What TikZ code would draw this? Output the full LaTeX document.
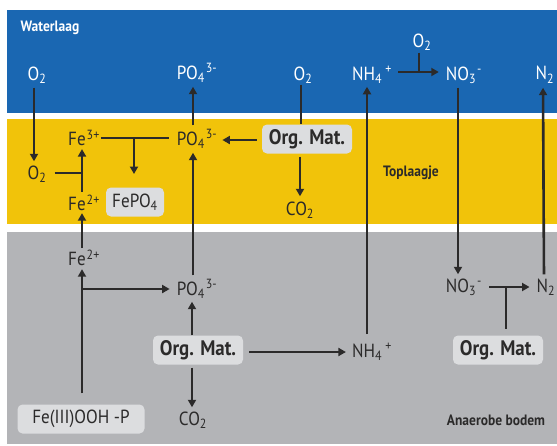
\documentclass[tikz,border=0pt]{standalone}
\usepackage{fontspec}
\setmainfont[FakeStretch=0.9]{PT Sans}
\usetikzlibrary{arrows.meta}
\definecolor{bandblue}{HTML}{1A67B2}
\definecolor{bandyellow}{HTML}{F1C30A}
\definecolor{bandgray}{HTML}{B3B4B7}
\definecolor{boxgray}{HTML}{DCDDDF}
\definecolor{dk}{HTML}{2B2A2A}
\tikzset{
  lbl/.style={font=\fontsize{19}{21}\selectfont, text=dk, inner sep=1pt},
  wlbl/.style={lbl, text=white},
  tag/.style={font=\fontsize{15}{17}\selectfont\bfseries, inner sep=1pt},
  ombox/.style={lbl, font=\fontsize{21}{23}\selectfont\bfseries, fill=boxgray, rounded corners=5pt, minimum width=90pt, minimum height=29pt, inner sep=0pt},
  gbox/.style={lbl, fill=boxgray, rounded corners=5pt, minimum height=29pt, inner sep=0pt},
  arr/.style={draw=dk, line width=2.6pt, -{Triangle[length=7.5pt,width=8pt]}},
  ln/.style={draw=dk, line width=2.6pt},
}
\newcommand{\sub}[1]{\textsubscript{#1}}
\newcommand{\sps}[1]{\textsuperscript{\kern1pt#1}}
\begin{document}
\begin{tikzpicture}[x=1pt,y=-1pt]
\useasboundingbox (0,0) rectangle (557,445);
% bands
\fill[bandblue] (7,10) rectangle (557,113);
\fill[bandyellow] (7,119) rectangle (557,224);
\fill[bandgray] (7,232) rectangle (557,444);
% band titles
\node[tag, text=white] (wl) at (50,28) {Waterlaag};
\node[tag, text=dk] (tl) at (411,173) {Toplaagje};
\node[tag, text=dk] (ab) at (496,420) {Anaerobe bodem};
% water layer
\node[wlbl] (o2t1) at (37,75) {O\sub{2}};
\node[wlbl] (po4t) at (197,73) {PO\sub{4}\sps{3-}};
\node[wlbl] (o2t2) at (303,75) {O\sub{2}};
\node[wlbl] (nh4t) at (372,75) {NH\sub{4}\sps{\,+}};
\node[wlbl] (o2n) at (422,42) {O\sub{2}};
\node[wlbl] (no3t) at (464,75) {NO\sub{3}\sps{-}};
\node[wlbl] (n2t) at (545,75) {N\sub{2}};
% top layer
\node[lbl] (o2y) at (37,174) {O\sub{2}};
\node[lbl] (fe3) at (84,138) {Fe\sps{3+}};
\node[lbl] (fe2y) at (84,203) {Fe\sps{2+}};
\node[gbox, minimum width=58pt] (fepo) at (135,202) {FePO\sub{4}};
\node[lbl] (po4y) at (197,139) {PO\sub{4}\sps{3-}};
\node[ombox] (omy) at (307,139) {Org. Mat.};
\node[lbl] (co2y) at (300,210) {CO\sub{2}};
% anaerobic soil
\node[lbl] (fe2g) at (84,258) {Fe\sps{2+}};
\node[lbl] (po4g) at (197,289) {PO\sub{4}\sps{3-}};
\node[ombox] (omg) at (198,350) {Org. Mat.};
\node[lbl] (co2g) at (193,420) {CO\sub{2}};
\node[gbox, minimum width=127pt] (feooh) at (81,419) {Fe(III)OOH -P};
\node[lbl] (nh4g) at (372,352) {NH\sub{4}\sps{\,+}};
\node[lbl] (no3g) at (464,287) {NO\sub{3}\sps{-}};
\node[lbl] (n2g) at (546,287) {N\sub{2}};
\node[ombox] (omr) at (498,350) {Org. Mat.};
% junction coordinates
\coordinate (jo2) at (82,173);
\coordinate (jfe) at (134,138);
\coordinate (jfeg) at (82,289);
\coordinate (jn) at (419,72);
\coordinate (jno) at (506,287);
% connectors: water and top layer
\draw[arr, shorten <=3pt, shorten >=3pt] ([xshift=-3pt]o2t1.south) -- ([xshift=-3pt]o2y.north);
\draw[arr, shorten <=3pt, shorten >=3pt] ([xshift=-4pt]po4y.north) -- ([xshift=-4pt]po4t.south);
\draw[ln] ([xshift=-2pt]o2t2.south) -- ([xshift=-2pt]o2t2.south |- omy.north);
\draw[arr, shorten <=3pt, shorten >=4pt] ([xshift=-7pt]omy.south) -- ([xshift=-7pt]omy.south |- co2y.north);
\draw[arr, shorten <=5pt, shorten >=4pt] ([yshift=-1pt]omy.west) -- ([yshift=-1pt]po4y.east);
\draw[ln, shorten >=7pt] (fe3.east) -- (fe3.east -| po4y.west);
\draw[arr] (jfe) -- ++(0,36);
\draw[ln, shorten <=7pt] ([yshift=1pt]o2y.east) -- (jo2);
\draw[arr, shorten <=2pt, shorten >=2pt] ([xshift=-2pt]fe2y.north) -- ([xshift=-2pt]fe3.south);
\draw[arr, shorten <=1pt, shorten >=1pt] ([xshift=-2pt]fe2g.north) -- ([xshift=-2pt]fe2y.south);
\draw[arr, shorten <=5pt, shorten >=6pt] ([yshift=3pt]nh4t.east) -- ([yshift=3pt]nh4t.east -| no3t.west);
\draw[ln, shorten <=1pt] (o2n.south -| jn) -- (jn);
\draw[arr, shorten <=8pt, shorten >=2pt] ([xshift=-5pt]nh4g.north) -- ([xshift=-5pt]nh4t.south);
\draw[arr, shorten <=3pt, shorten >=3pt] ([xshift=-6pt]no3t.south) -- ([xshift=-6pt]no3g.north);
\draw[arr, shorten <=3pt, shorten >=3pt] ([xshift=-2pt]n2g.north) -- ([xshift=-2pt]n2t.south);
% connectors: anaerobic soil
\draw[arr, shorten <=3pt, shorten >=3pt] ([xshift=-4pt]po4g.north) -- ([xshift=-4pt]po4y.south);
\draw[arr, shorten <=11pt, shorten >=2pt] ([xshift=-2pt]fe2g.south |- feooh.north) -- ([xshift=-2pt]fe2g.south);
\draw[arr, shorten >=6pt] (jfeg) -- (jfeg -| po4g.west);
\draw[arr, shorten >=2pt] ([xshift=-6pt]omg.north) -- ([xshift=-6pt]omg.north |- po4g.south);
\draw[arr, shorten <=3pt, shorten >=3pt] ([xshift=-6pt]omg.south) -- ([xshift=-6pt]omg.south |- co2g.north);
\draw[arr, shorten <=6pt, shorten >=5pt] ([yshift=-2pt]omg.east) -- ([yshift=-2pt]omg.east -| nh4g.west);
\draw[arr, shorten <=6pt, shorten >=6pt] (no3g.east) -- (no3g.east -| n2g.west);
\draw[ln, shorten >=6pt] (jno) -- (jno |- omr.north);
\end{tikzpicture}
\end{document}
